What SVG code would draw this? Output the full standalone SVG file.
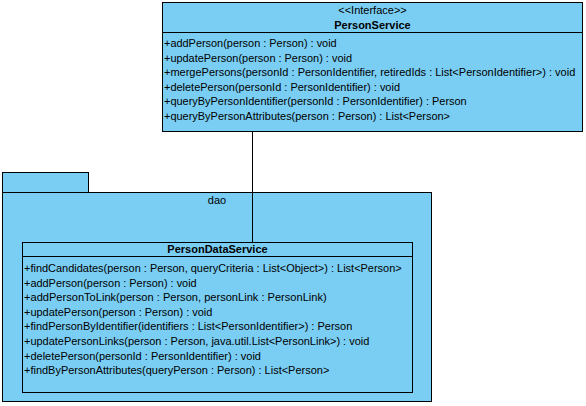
<svg xmlns="http://www.w3.org/2000/svg" width="586" height="406" viewBox="0 0 586 406">
<style>
.box{fill:#7ACEF4;stroke:#000;stroke-width:1}
.t{font-family:"Liberation Sans",Arial,sans-serif;font-size:11px;fill:#000}
.c{text-anchor:middle}
.b{font-weight:bold}
.conn{stroke:#000;stroke-width:1;fill:none}
</style>
<rect width="586" height="406" fill="#fff"/>
<g id="dao">
<rect class="box" x="2.5" y="172.5" width="86" height="20"/>
<rect class="box" x="2.5" y="192.5" width="429" height="209"/>
<text class="t c" x="217" y="204">dao</text>
</g>
<g id="connectors">
<line class="conn" x1="252.5" y1="132" x2="252.5" y2="242"/>
</g>
<g id="PersonService">
<rect class="box" x="162.5" y="2.5" width="420" height="129"/>
<line class="conn" x1="162.5" y1="32.5" x2="582.5" y2="32.5"/>
<text class="t c" x="372.5" y="14">&lt;&lt;Interface&gt;&gt;</text>
<text class="t c b" x="372.5" y="29">PersonService</text>
<text class="t" x="164" y="47" textLength="172.7" lengthAdjust="spacingAndGlyphs">+addPerson(person : Person) : void</text>
<text class="t" x="164" y="61.6" textLength="188" lengthAdjust="spacingAndGlyphs">+updatePerson(person : Person) : void</text>
<text class="t" x="164" y="76.2" textLength="411.3" lengthAdjust="spacingAndGlyphs">+mergePersons(personId : PersonIdentifier, retiredIds : List&lt;PersonIdentifier&gt;) : void</text>
<text class="t" x="164" y="90.8" textLength="236" lengthAdjust="spacingAndGlyphs">+deletePerson(personId : PersonIdentifier) : void</text>
<text class="t" x="164" y="105.4" textLength="302.7" lengthAdjust="spacingAndGlyphs">+queryByPersonIdentifier(personId : PersonIdentifier) : Person</text>
<text class="t" x="164" y="120" textLength="286" lengthAdjust="spacingAndGlyphs">+queryByPersonAttributes(person : Person) : List&lt;Person&gt;</text>
</g>
<g id="PersonDataService">
<rect class="box" x="22.5" y="242.5" width="390" height="150"/>
<line class="conn" x1="22.5" y1="256.5" x2="412.5" y2="256.5"/>
<text class="t c b" x="217.5" y="253">PersonDataService</text>
<text class="t" x="24" y="272" textLength="377.7" lengthAdjust="spacingAndGlyphs">+findCandidates(person : Person, queryCriteria : List&lt;Object&gt;) : List&lt;Person&gt;</text>
<text class="t" x="24" y="286.6" textLength="172.7" lengthAdjust="spacingAndGlyphs">+addPerson(person : Person) : void</text>
<text class="t" x="24" y="301.2" textLength="302.7" lengthAdjust="spacingAndGlyphs">+addPersonToLink(person : Person, personLink : PersonLink)</text>
<text class="t" x="24" y="315.8" textLength="188.3" lengthAdjust="spacingAndGlyphs">+updatePerson(person : Person) : void</text>
<text class="t" x="24" y="330.4" textLength="328.3" lengthAdjust="spacingAndGlyphs">+findPersonByIdentifier(identifiers : List&lt;PersonIdentifier&gt;) : Person</text>
<text class="t" x="24" y="345" textLength="345.3" lengthAdjust="spacingAndGlyphs">+updatePersonLinks(person : Person, java.util.List&lt;PersonLink&gt;) : void</text>
<text class="t" x="24" y="359.6" textLength="237" lengthAdjust="spacingAndGlyphs">+deletePerson(personId : PersonIdentifier) : void</text>
<text class="t" x="24" y="374.2" textLength="305.3" lengthAdjust="spacingAndGlyphs">+findByPersonAttributes(queryPerson : Person) : List&lt;Person&gt;</text>
</g>
</svg>
